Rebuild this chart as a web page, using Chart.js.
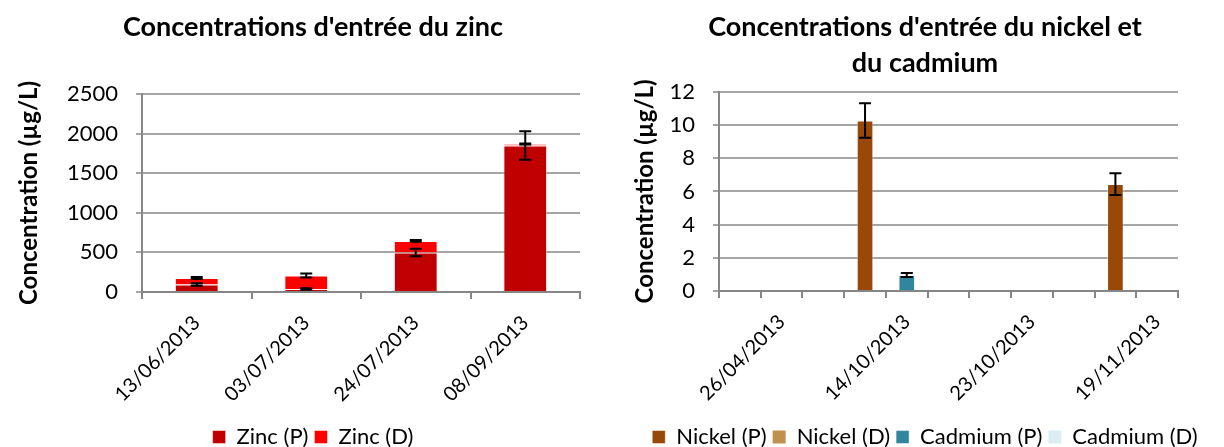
<!DOCTYPE html>
<html>
<head>
<meta charset="utf-8">
<script src="https://cdn.jsdelivr.net/npm/chart.js@4"></script>
<style>
  body { margin: 0; background: #fff; }
  #wrap { position: relative; width: 1224px; height: 447px; }
  #zincChart { position: absolute; left: 0; top: 0; }
  #niCdChart { position: absolute; left: 626px; top: 0; }
</style>
</head>
<body>
<div id="wrap">
  <canvas id="zincChart" width="626" height="447"></canvas>
  <canvas id="niCdChart" width="598" height="447"></canvas>
</div>
<script>
// zinc chart data
const zincDates = ['13/06/2013', '03/07/2013', '24/07/2013', '08/09/2013'];
const zincP = [94, 38, 498, 1850];
const zincD = [83, 170, 147, 18];
const zincPErr = [15, 10, 48, 180];
const zincDErr = [12, 25, 10, 6];

// nickel / cadmium chart data (11 slots, dates label every third slot)
const niCdLabels = ['', '26/04/2013', '', '', '14/10/2013', '', '', '23/10/2013', '', '', '19/11/2013'];
const nickelP = [null, null, null, 10.27, null, null, null, null, null, 6.44, null];
const nickelD = [null, null, null, 0, null, null, null, null, null, 0, null];
const cadmiumP = [null, null, null, null, 0.97, null, null, null, null, null, null];
const cadmiumD = [null, null, null, null, 0, null, null, null, null, null, null];
const nickelPErr = [null, null, null, 1.04, null, null, null, null, null, 0.66, null];
const cadmiumPErr = [null, null, null, null, 0.12, null, null, null, null, null, null];

const FONT = 'Lato';

// draws Excel-like error bars at the top of each (stacked) bar
const errorBars = {
  id: 'errorBars',
  afterDatasetsDraw(chart) {
    const ctx = chart.ctx;
    const yScale = chart.scales.y;
    ctx.save();
    ctx.strokeStyle = '#000';
    ctx.lineWidth = 2;
    chart.data.datasets.forEach((ds, di) => {
      if (!ds.errors) return;
      const meta = chart.getDatasetMeta(di);
      meta.data.forEach((bar, i) => {
        const err = ds.errors[i];
        if (err == null || ds.data[i] == null) return;
        const top = yScale.getValueForPixel(bar.y);
        const y1 = yScale.getPixelForValue(top + err);
        const y2 = yScale.getPixelForValue(top - err);
        const half = 6;
        ctx.beginPath();
        ctx.moveTo(bar.x, y1); ctx.lineTo(bar.x, y2);
        ctx.moveTo(bar.x - half, y1); ctx.lineTo(bar.x + half, y1);
        ctx.moveTo(bar.x - half, y2); ctx.lineTo(bar.x + half, y2);
        ctx.stroke();
      });
    });
    ctx.restore();
  }
};

function makeOptions(cfg) {
  return {
    responsive: false,
    animation: false,
    layout: { padding: { left: 0, right: 0, top: 0, bottom: -11 } },
    plugins: {
      title: {
        display: true,
        text: cfg.title,
        color: '#000',
        font: { family: FONT, size: 27, weight: 'bold', lineHeight: 1.33 },
        padding: { top: 9, bottom: cfg.titleBottom }
      },
      legend: {
        position: 'bottom',
        labels: {
          color: '#000',
          font: { family: FONT, size: 22 },
          boxWidth: 13,
          boxHeight: 13,
          padding: 6
        }
      },
      tooltip: { enabled: false }
    },
    scales: {
      x: {
        stacked: true,
        offset: true,
        grid: { drawOnChartArea: false, offset: true, color: '#868686', lineWidth: 2, tickLength: 7 },
        border: { color: '#868686', width: 2 },
        ticks: {
          autoSkip: false, minRotation: 45, maxRotation: 45,
          color: '#000', font: { family: FONT, size: 20 }, padding: 12
        },
        afterFit(s) { s.height = cfg.xHeight; }
      },
      y: {
        stacked: true,
        min: 0,
        max: cfg.yMax,
        ticks: {
          stepSize: cfg.yStep, autoSkip: false, color: '#000', font: { family: FONT, size: 22 }, padding: 18,
          callback: v => String(v)
        },
        grid: { color: '#a5a5a5', lineWidth: 2, tickLength: 6 },
        border: { color: '#868686', width: 2 },
        title: {
          display: true,
          text: 'Concentration (µg/L)',
          color: '#000',
          font: { family: FONT, size: 24, weight: 'bold' },
          padding: { top: cfg.yTitlePad, bottom: 0 }
        },
        afterFit(s) { s.width = cfg.yWidth; }
      },
      // empty right-hand strip so the plot stops short of the canvas edge
      // while title and legend stay centred on the full width
      spacer: {
        position: 'right',
        grid: { display: false },
        border: { display: false },
        ticks: { display: false },
        afterFit(s) { s.width = 46; }
      }
    }
  };
}

new Chart(document.getElementById('zincChart').getContext('2d'), {
  type: 'bar',
  data: {
    labels: zincDates,
    datasets: [
      { label: 'Zinc (P)', data: zincP, errors: zincPErr, backgroundColor: '#C00000',
        borderColor: 'rgba(255,255,255,0.45)', borderWidth: 1, barPercentage: 0.4, categoryPercentage: 1 },
      { label: 'Zinc (D)', data: zincD, errors: zincDErr, backgroundColor: '#FF0000',
        borderColor: 'rgba(255,255,255,0.45)', borderWidth: 1, barPercentage: 0.4, categoryPercentage: 1 }
    ]
  },
  options: makeOptions({
    title: "Concentrations d'entrée du zinc", titleBottom: 49,
    xHeight: 128, yMax: 2500, yStep: 500, yTitlePad: 15, yWidth: 142
  }),
  plugins: [errorBars]
});

new Chart(document.getElementById('niCdChart').getContext('2d'), {
  type: 'bar',
  data: {
    labels: niCdLabels,
    datasets: [
      { label: 'Nickel (P)', data: nickelP, errors: nickelPErr, backgroundColor: '#984807',
        borderColor: 'rgba(255,255,255,0.45)', borderWidth: 1, barPercentage: 0.4, categoryPercentage: 1 },
      { label: 'Nickel (D)', data: nickelD, backgroundColor: '#C0914E',
        borderColor: 'rgba(255,255,255,0.45)', borderWidth: 0, barPercentage: 0.4, categoryPercentage: 1 },
      { label: 'Cadmium (P)', data: cadmiumP, errors: cadmiumPErr, backgroundColor: '#31859C',
        borderColor: 'rgba(255,255,255,0.45)', borderWidth: 1, barPercentage: 0.4, categoryPercentage: 1 },
      { label: 'Cadmium (D)', data: cadmiumD, backgroundColor: '#DBEEF4',
        borderColor: 'rgba(255,255,255,0.45)', borderWidth: 0, barPercentage: 0.4, categoryPercentage: 1 }
    ]
  },
  options: makeOptions({
    title: ["Concentrations d'entrée du nickel et", 'du cadmium'], titleBottom: 11,
    xHeight: 129, yMax: 12, yStep: 2, yTitlePad: 5, yWidth: 93
  }),
  plugins: [errorBars]
});
</script>
</body>
</html>
